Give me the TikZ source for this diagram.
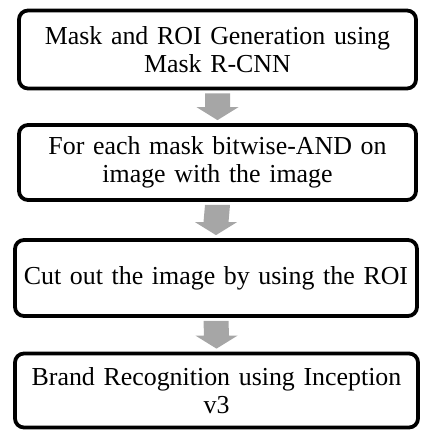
\documentclass[tikz,border=0pt]{standalone}
\usepackage{fontspec}
\setmainfont{Liberation Serif}
\usetikzlibrary{calc}
\definecolor{arrowgray}{RGB}{166,166,166}
\tikzset{
  stepbox/.style={draw=black, line width=3.75pt, rounded corners=9pt, fill=white,
    inner sep=0pt, align=center, text width=396pt,
    font=\fontsize{25.9}{27.4}\selectfont},
  flowarrow/.style={fill=arrowgray, draw=none}
}
% block arrow from the bottom of one box to the top of the next
\newcommand{\blockarrow}[2]{%
  \coordinate (s) at ($(#1.south)+(0,3)$);
  \coordinate (e) at ($(#2.north)+(0,-3)$);
  \fill[flowarrow] ($(s)+(-12.5,0)$) -- ($(s)+(12.5,0)$)
    -- ($(e)+(12.5,-13)$) -- ($(e)+(21,-13)$) -- (e)
    -- ($(e)+(-21,-13)$) -- ($(e)+(-12.5,-13)$) -- cycle;
}
\begin{document}
\begin{tikzpicture}[x=1pt, y=-1pt]
  \useasboundingbox (0,0) rectangle (421,430);
  \node[stepbox, minimum width=397pt, minimum height=78pt] (b1) at (217.5,49.5)
    {Mask and ROI Generation using\\Mask R-CNN};
  \node[stepbox, minimum width=397pt, minimum height=75pt] (b2) at (217.5,162.5)
    {For each mask bitwise-AND on\\image with the image};
  \node[stepbox, minimum width=402pt, minimum height=76pt] (b3) at (216,278)
    {Cut out the image by using the ROI};
  \node[stepbox, minimum width=403pt, minimum height=74pt] (b4) at (216.5,390.5)
    {Brand Recognition using Inception\\v3};
  \blockarrow{b1}{b2}
  \blockarrow{b2}{b3}
  \blockarrow{b3}{b4}
\end{tikzpicture}
\end{document}
